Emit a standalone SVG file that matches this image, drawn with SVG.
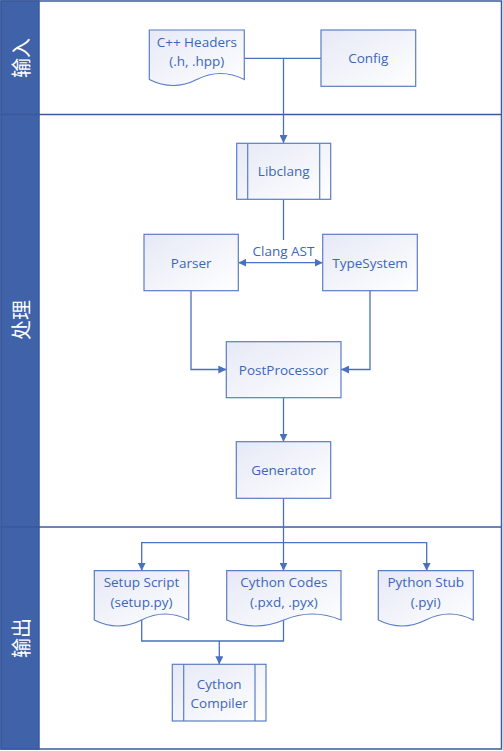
<svg xmlns="http://www.w3.org/2000/svg" width="503" height="751" viewBox="0 0 503 751">
<style>
.lane{fill:#ffffff;stroke:#3A5A9C;stroke-width:1.5}
.hdr{fill:#3F62A8;stroke:#3A5A9C;stroke-width:1.5}
.ht{fill:#ffffff;font-family:"Noto Sans CJK SC","Noto Sans",sans-serif;font-size:20px;text-anchor:middle;dominant-baseline:central}
.n{fill:url(#g);stroke:#5B7DC4;stroke-width:1.2}
.il{stroke:#5B7DC4;stroke-width:1.2;fill:none}
.t{fill:#3D66B8;font-family:"Open Sans","Noto Sans",sans-serif;font-size:13.5px;text-anchor:middle;dominant-baseline:central}
.c{fill:none;stroke:#4A70BF;stroke-width:1.3}
</style>
<defs>
<linearGradient id="g" x1="0" y1="0" x2="1" y2="1">
<stop offset="0" stop-color="#E6E9F6"/>
<stop offset="1" stop-color="#FFFFFF"/>
</linearGradient>
<marker id="a" viewBox="0 0 10 10" refX="10" refY="5" markerWidth="8" markerHeight="8" markerUnits="userSpaceOnUse" orient="auto-start-reverse">
<path d="M0,0 L10,5 L0,10 Z" fill="#4A70BF"/>
</marker>
</defs>
<g id="lanes">
<rect class="lane" x="1" y="1" width="500.5" height="748"/>
<line class="lane" x1="1" y1="114.5" x2="501.5" y2="114.5"/>
<line class="lane" x1="1" y1="527" x2="501.5" y2="527"/>
<rect class="hdr" x="1" y="1" width="38" height="113.5"/>
<rect class="hdr" x="1" y="114.5" width="38" height="412.5"/>
<rect class="hdr" x="1" y="527" width="38" height="222"/>
<text class="ht" transform="translate(20,58) rotate(-90)">输入</text>
<text class="ht" transform="translate(20,320) rotate(-90)">处理</text>
<text class="ht" transform="translate(20,638) rotate(-90)">输出</text>
</g>
<g id="connectors">
<path class="c" d="M244.3,58.3 H321"/>
<path class="c" d="M283.5,58.3 V143" marker-end="url(#a)"/>
<path class="c" d="M283.5,199.3 V240"/>
<path class="c" d="M238.3,262.7 H322.7" marker-start="url(#a)" marker-end="url(#a)"/>
<path class="c" d="M191,290.7 V369.5 H226.3" marker-end="url(#a)"/>
<path class="c" d="M370,290.7 V369.5 H341" marker-end="url(#a)"/>
<path class="c" d="M283.5,397.7 V441.7" marker-end="url(#a)"/>
<path class="c" d="M283.5,498.3 V570.7" marker-end="url(#a)"/>
<path class="c" d="M141.7,570.7 V542.7 H426.7 V570.7" marker-start="url(#a)" marker-end="url(#a)"/>
<path class="c" d="M141.7,620 V641 H283.5 V620"/>
<path class="c" d="M219.3,641 V664.3" marker-end="url(#a)"/>
<text class="t" x="283.5" y="251">Clang AST</text>
</g>
<g id="cpp-headers">
<path class="n" d="M149.3,30 H244.3 V79.5 Q220.5,67.5 196.8,79.5 T149.3,79.5 Z"/>
<text class="t" x="196.8" y="41.5">C++ Headers</text>
<text class="t" x="196.8" y="61">(.h, .hpp)</text>
</g>
<g id="config">
<rect class="n" x="321" y="30" width="94.7" height="56.3"/>
<text class="t" x="368.3" y="58.3">Config</text>
</g>
<g id="libclang">
<rect class="n" x="236.7" y="143.3" width="94" height="56"/>
<line class="il" x1="247.7" y1="143.3" x2="247.7" y2="199.3"/>
<line class="il" x1="319.7" y1="143.3" x2="319.7" y2="199.3"/>
<text class="t" x="283.7" y="171.3">Libclang</text>
</g>
<g id="parser">
<rect class="n" x="144" y="234.3" width="94.3" height="56.4"/>
<text class="t" x="191.2" y="262.5">Parser</text>
</g>
<g id="typesystem">
<rect class="n" x="322.7" y="234.3" width="94.6" height="56.4"/>
<text class="t" x="370" y="262.5">TypeSystem</text>
</g>
<g id="postprocessor">
<rect class="n" x="226.3" y="341.7" width="114.7" height="56"/>
<text class="t" x="283.7" y="369.5">PostProcessor</text>
</g>
<g id="generator">
<rect class="n" x="236.3" y="441.7" width="94.4" height="56.6"/>
<text class="t" x="283.5" y="470">Generator</text>
</g>
<g id="setup-script">
<path class="n" d="M94.3,570.7 H188.7 V620 Q165.1,608 141.5,620 T94.3,620 Z"/>
<text class="t" x="141.5" y="582">Setup Script</text>
<text class="t" x="141.5" y="602">(setup.py)</text>
</g>
<g id="cython-codes">
<path class="n" d="M226.7,570.7 H341 V620 Q312.4,608 283.9,620 T226.7,620 Z"/>
<text class="t" x="283.9" y="582">Cython Codes</text>
<text class="t" x="283.9" y="602">(.pxd, .pyx)</text>
</g>
<g id="python-stub">
<path class="n" d="M378.3,570.7 H473.3 V620 Q449.5,608 425.8,620 T378.3,620 Z"/>
<text class="t" x="425.8" y="582">Python Stub</text>
<text class="t" x="425.8" y="602">(.pyi)</text>
</g>
<g id="cython-compiler">
<rect class="n" x="172.3" y="664.3" width="93.7" height="56.7"/>
<line class="il" x1="183.7" y1="664.3" x2="183.7" y2="721"/>
<line class="il" x1="255" y1="664.3" x2="255" y2="721"/>
<text class="t" x="219.2" y="683.5">Cython</text>
<text class="t" x="219.2" y="702.5">Compiler</text>
</g>
</svg>
